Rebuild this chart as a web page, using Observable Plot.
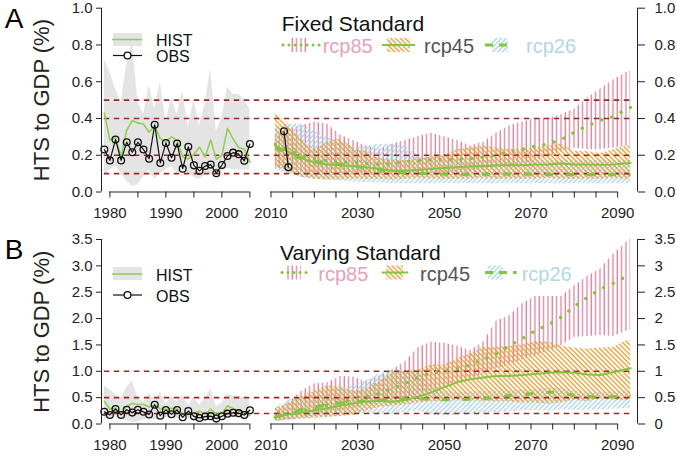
<!DOCTYPE html>
<html><head><meta charset="utf-8">
<script src="https://cdn.jsdelivr.net/npm/d3@7"></script>
<script src="https://cdn.jsdelivr.net/npm/@observablehq/plot@0.6"></script>
<style>
html,body{margin:0;padding:0;background:#fff}
#wrap{position:relative;width:677px;height:459px;overflow:hidden;font-family:Helvetica,Arial,"Liberation Sans",sans-serif}
#wrap>svg{position:absolute;left:0}
</style></head><body>
<div id="wrap"></div>
<script>
// ---------------- data ----------------
const histYears = [1979,1980,1981,1982,1983,1984,1985,1986,1987,1988,1989,1990,1991,1992,1993,1994,1995,1996,1997,1998,1999,2000,2001,2002,2003,2004,2005];
const obsVals   = [0.231,0.172,0.285,0.172,0.271,0.216,0.270,0.231,0.181,0.366,0.158,0.267,0.186,0.264,0.127,0.246,0.145,0.115,0.141,0.149,0.102,0.147,0.196,0.214,0.206,0.170,0.261];
const histMed   = [0.43,0.283,0.296,0.19,0.335,0.389,0.376,0.37,0.325,0.36,0.289,0.274,0.30,0.28,0.192,0.18,0.205,0.244,0.19,0.283,0.178,0.199,0.346,0.289,0.242,0.233,0.162];
const histHi    = [0.72,0.65,0.56,0.49,0.69,0.82,0.49,0.42,0.58,0.45,0.60,0.38,0.51,0.42,0.55,0.35,0.50,0.36,0.48,0.67,0.33,0.40,0.57,0.53,0.53,0.50,0.45];
const histLo    = [0.09,0.12,0.14,0.10,0.06,0.03,0.04,0.08,0.12,0.07,0.10,0.12,0.14,0.10,0.12,0.10,0.08,0.07,0.09,0.10,0.09,0.11,0.13,0.12,0.12,0.12,0.12];

const obsRecentYears = [2013, 2014];
const obsRecentVals  = [0.33, 0.135];

const projYears = [2011,2014,2017,2020,2023,2026,2029,2032,2035,2038,2041,2044,2047,2050,2053,2056,2059,2062,2065,2068,2071,2074,2077,2080,2083,2086,2089,2092,2093];

// Panel A: fixed standard
const a85hi  = [0.30,0.34,0.36,0.38,0.37,0.31,0.28,0.25,0.23,0.26,0.28,0.30,0.32,0.30,0.28,0.25,0.27,0.32,0.36,0.38,0.40,0.40,0.42,0.45,0.51,0.56,0.61,0.65,0.66];
const a85lo  = [0.13,0.12,0.11,0.10,0.10,0.10,0.10,0.10,0.10,0.10,0.10,0.10,0.10,0.10,0.10,0.11,0.12,0.13,0.14,0.15,0.17,0.19,0.22,0.24,0.23,0.23,0.24,0.25,0.25];
const a45hi  = [0.43,0.37,0.29,0.23,0.27,0.29,0.24,0.22,0.18,0.17,0.17,0.18,0.19,0.20,0.23,0.24,0.25,0.24,0.23,0.23,0.24,0.25,0.26,0.22,0.22,0.21,0.23,0.25,0.25];
const a45lo  = [0.14,0.11,0.08,0.07,0.065,0.065,0.07,0.07,0.07,0.065,0.07,0.075,0.07,0.07,0.07,0.07,0.075,0.07,0.07,0.07,0.07,0.075,0.07,0.07,0.07,0.07,0.075,0.07,0.07];
const a26hi  = [0.35,0.37,0.37,0.33,0.30,0.27,0.24,0.25,0.26,0.26,0.25,0.20,0.18,0.17,0.17,0.17,0.17,0.17,0.17,0.17,0.17,0.17,0.17,0.17,0.17,0.17,0.17,0.17,0.17];
const a26lo  = [0.12,0.10,0.08,0.07,0.065,0.06,0.055,0.05,0.05,0.045,0.045,0.045,0.045,0.045,0.045,0.045,0.045,0.045,0.045,0.045,0.045,0.045,0.045,0.045,0.045,0.045,0.045,0.045,0.045];
const a85med = [0.26,0.23,0.20,0.18,0.17,0.165,0.16,0.155,0.15,0.155,0.165,0.17,0.176,0.178,0.178,0.183,0.19,0.20,0.22,0.232,0.25,0.262,0.285,0.325,0.36,0.39,0.41,0.45,0.46];
const a45med = [0.25,0.22,0.185,0.16,0.15,0.145,0.14,0.135,0.125,0.115,0.115,0.12,0.125,0.13,0.135,0.14,0.14,0.145,0.145,0.145,0.15,0.15,0.155,0.15,0.15,0.148,0.15,0.157,0.158];
const a26med = [0.24,0.21,0.18,0.165,0.16,0.15,0.14,0.13,0.12,0.11,0.105,0.10,0.10,0.097,0.095,0.095,0.095,0.096,0.097,0.096,0.096,0.095,0.094,0.095,0.095,0.095,0.095,0.095,0.095];

// Panel B: varying standard
const b85hi  = [0.22,0.40,0.62,0.76,0.78,0.90,0.89,0.80,0.90,1.03,1.18,1.45,1.55,1.53,1.48,1.39,1.55,1.95,2.05,2.28,2.42,2.42,2.42,2.62,2.80,2.94,3.22,3.45,3.52];
const b85lo  = [0.05,0.08,0.12,0.15,0.20,0.25,0.30,0.35,0.40,0.45,0.50,0.55,0.62,0.70,0.78,0.85,0.95,1.05,1.12,1.22,1.30,1.38,1.48,1.64,1.66,1.68,1.66,1.76,1.78];
const b45hi  = [0.29,0.39,0.52,0.62,0.72,0.70,0.62,0.66,0.80,0.97,1.00,1.03,1.12,1.12,1.24,1.33,1.45,1.45,1.47,1.50,1.56,1.55,1.48,1.44,1.42,1.44,1.45,1.58,1.58];
const b45lo  = [0.05,0.08,0.10,0.12,0.13,0.14,0.16,0.25,0.32,0.34,0.36,0.40,0.42,0.43,0.44,0.44,0.43,0.42,0.42,0.40,0.40,0.38,0.40,0.45,0.42,0.48,0.45,0.44,0.45];
const b26hi  = [0.30,0.45,0.50,0.55,0.60,0.65,0.72,0.82,0.95,1.02,1.02,0.98,0.70,0.62,0.60,0.60,0.62,0.62,0.63,0.64,0.66,0.68,0.68,0.62,0.60,0.60,0.60,0.62,0.62];
const b26lo  = [0.04,0.06,0.08,0.10,0.12,0.15,0.18,0.20,0.20,0.20,0.22,0.25,0.17,0.15,0.17,0.20,0.20,0.22,0.23,0.25,0.25,0.25,0.27,0.26,0.26,0.27,0.28,0.30,0.30];
const b85med = [0.13,0.20,0.25,0.30,0.36,0.42,0.46,0.52,0.58,0.67,0.77,0.89,0.97,1.01,1.05,1.12,1.23,1.33,1.49,1.62,1.77,1.88,2.03,2.23,2.40,2.56,2.67,2.80,2.86];
const b45med = [0.13,0.18,0.22,0.26,0.30,0.35,0.39,0.42,0.44,0.42,0.45,0.52,0.60,0.70,0.79,0.85,0.88,0.91,0.91,0.93,0.95,0.97,0.98,0.97,0.94,0.93,0.98,1.04,1.06];
const b26med = [0.13,0.20,0.27,0.32,0.37,0.40,0.42,0.44,0.45,0.47,0.48,0.48,0.47,0.46,0.46,0.47,0.48,0.50,0.54,0.56,0.58,0.60,0.60,0.54,0.52,0.51,0.52,0.53,0.53];

const refA = [0.1, 0.2, 0.4, 0.5];
const refB = [0.2, 0.5, 1.0];
const refSpan = [1979, 2093];
const yTicksA = [0, 0.2, 0.4, 0.6, 0.8, 1.0];
const yTicksB = [0, 0.5, 1, 1.5, 2, 2.5, 3, 3.5];
const xTicksHist = [1980, 1985, 1990, 1995, 2000, 2005];
const xTicksProj = [2010,2015,2020,2025,2030,2035,2040,2045,2050,2055,2060,2065,2070,2075,2080,2085,2090];
const xLabels = [1980, 1990, 2000, 2010, 2030, 2050, 2070, 2090];
const yLabel = "HTS to GDP (%)";

// ---------------- tables ----------------
const hist = histYears.map((year, i) => ({year, obs: obsVals[i], med: histMed[i], lo: histLo[i], hi: histHi[i]}));
const obsRecent = obsRecentYears.map((year, i) => ({year, v: obsRecentVals[i]}));
const mkProj = (s) => projYears.map((year, i) => ({
  year, lo85: s.lo85[i], hi85: s.hi85[i], lo45: s.lo45[i], hi45: s.hi45[i], lo26: s.lo26[i], hi26: s.hi26[i],
  m85: s.m85[i], m45: s.m45[i], m26: s.m26[i]
}));
const projA = mkProj({lo85:a85lo,hi85:a85hi,lo45:a45lo,hi45:a45hi,lo26:a26lo,hi26:a26hi,m85:a85med,m45:a45med,m26:a26med});
const projB = mkProj({lo85:b85lo,hi85:b85hi,lo45:b45lo,hi45:b45hi,lo26:b26lo,hi26:b26hi,m85:b85med,m45:b45med,m26:b26med});

// ---------------- style ----------------
const GREEN = "#84c441", HISTGREEN = "#8fd056", GREY = "#e4e4e4", RED = "#9c2a22", INK = "#222";
const FONT = 'Helvetica, Arial, "Liberation Sans", sans-serif';
// broken x axis: historical years and projection years on different piecewise segments
const xDomain = [1978.5, 2007, 2008.5, 2094.58];
const xRange  = [101, 260.6, 264, 637];

function panel({yMax, yTicks, rightFmt, ref, proj, showRecentObs, letter, mTop, mBottom}) {
  const H = 231;
  const marks = [
    Plot.areaY(hist, {x: "year", y1: "lo", y2: "hi", fill: GREY}),
    Plot.areaY(proj, {x: "year", y1: "lo85", y2: "hi85", fill: "url(#h85)"}),
    Plot.areaY(proj, {x: "year", y1: "lo26", y2: "hi26", fill: "url(#h26)"}),
    Plot.areaY(proj, {x: "year", y1: "lo45", y2: "hi45", fill: "url(#h45)"}),
    Plot.ruleY(ref, {x1: refSpan[0], x2: refSpan[1], stroke: RED, strokeWidth: 1.6, strokeDasharray: "5.5,4.5"}),
    Plot.lineY(proj, {x: "year", y: "m26", stroke: GREEN, strokeWidth: 3, strokeDasharray: "8,13", strokeLinecap: "butt"}),
    Plot.lineY(proj, {x: "year", y: "m45", stroke: GREEN, strokeWidth: 2}),
    Plot.lineY(proj, {x: "year", y: "m85", stroke: GREEN, strokeWidth: 3.4, strokeDasharray: "0.01,10.5", strokeLinecap: "round"}),
    Plot.lineY(hist, {x: "year", y: "med", stroke: HISTGREEN, strokeWidth: 1.6}),
    Plot.lineY(hist, {x: "year", y: "obs", stroke: "#111", strokeWidth: 1.2}),
    Plot.dot(hist, {x: "year", y: "obs", r: 3.4, stroke: "#111", strokeWidth: 1.3, fill: "none"}),
    // axes
    Plot.ruleY([0], {x1: xTicksHist[0], x2: xTicksHist[xTicksHist.length - 1], stroke: INK}),
    Plot.ruleY([0], {x1: xTicksProj[0], x2: xTicksProj[xTicksProj.length - 1], stroke: INK}),
    Plot.ruleX([xDomain[0]], {y1: 0, y2: yMax, stroke: INK}),
    Plot.ruleX([xDomain[3]], {y1: 0, y2: yMax, stroke: INK}),
    Plot.axisX({ticks: xTicksHist.concat(xTicksProj), anchor: "bottom", tickSize: 6, tickPadding: 9,
      tickFormat: d => xLabels.includes(d) ? String(d) : "", fontSize: 15, label: null}),
    Plot.axisY({ticks: yTicks, anchor: "left", tickSize: 5, tickPadding: 4, tickFormat: d3.format(".1f"), fontSize: 15, label: null}),
    Plot.axisY({ticks: yTicks, anchor: "right", tickSize: 7, tickPadding: 10, tickFormat: rightFmt, fontSize: 15, label: null}),
    Plot.text([yLabel], {frameAnchor: "left", textAnchor: "middle", lineAnchor: "middle", rotate: -90, dx: -60, fontSize: 22, fill: INK}),
    Plot.text([letter], {frameAnchor: "top-left", textAnchor: "middle", lineAnchor: "middle", dx: -87.5, dy: 10.5, fontSize: 28, fill: "#000"})
  ];
  if (showRecentObs) {
    marks.push(Plot.lineY(obsRecent, {x: "year", y: "v", stroke: "#111", strokeWidth: 1.2}));
    marks.push(Plot.dot(obsRecent, {x: "year", y: "v", r: 3.4, stroke: "#111", strokeWidth: 1.3, fill: "none"}));
  }
  return Plot.plot({
    width: 677, height: H,
    marginLeft: 101, marginRight: 40, marginTop: mTop, marginBottom: mBottom,
    x: {type: "linear", domain: xDomain, range: xRange, axis: null},
    y: {domain: [0, yMax], range: [H - mBottom, mTop], axis: null},
    style: {fontFamily: FONT, color: INK, background: "transparent", overflow: "visible"},
    marks
  });
}

const wrap = document.getElementById("wrap");
const svgA = panel({yMax: 1, yTicks: yTicksA, rightFmt: d3.format(".1f"), ref: refA, proj: projA, showRecentObs: true, letter: "A", mTop: 7.7, mBottom: 39.5});
const svgB = panel({yMax: 3.5, yTicks: yTicksB, rightFmt: d => String(d), ref: refB, proj: projB, showRecentObs: false, letter: "B", mTop: 8, mBottom: 38.5});
svgA.style.top = "0px";
svgB.style.top = "231px";
wrap.appendChild(svgA);
wrap.appendChild(svgB);

// ---------------- overlay: patterns, titles and legends ----------------
const ov = d3.create("svg").attr("width", 677).attr("height", 459).style("top", "0px")
  .style("pointer-events", "none").style("font-family", FONT);
const defs = ov.append("defs");
defs.append("pattern").attr("id", "h85").attr("patternUnits", "userSpaceOnUse").attr("width", 4.333).attr("height", 8)
  .append("line").attr("x1", 2).attr("x2", 2).attr("y1", 0).attr("y2", 8).attr("stroke", "#d9869f").attr("stroke-width", 1.35);
defs.append("pattern").attr("id", "h45").attr("patternUnits", "userSpaceOnUse").attr("width", 3.4).attr("height", 6)
  .attr("patternTransform", "rotate(-45)")
  .append("line").attr("x1", 1).attr("x2", 1).attr("y1", 0).attr("y2", 6).attr("stroke", "#e89f33").attr("stroke-width", 1.35);
defs.append("pattern").attr("id", "h26").attr("patternUnits", "userSpaceOnUse").attr("width", 3.4).attr("height", 6)
  .attr("patternTransform", "rotate(45)")
  .append("line").attr("x1", 1).attr("x2", 1).attr("y1", 0).attr("y2", 6).attr("stroke", "#a6d1e6").attr("stroke-width", 1.25);

function histLegend(g, boxTop, lineY1, base1, lineY2, base2) {
  g.append("rect").attr("x", 113).attr("y", boxTop).attr("width", 29).attr("height", 13).attr("fill", GREY);
  g.append("line").attr("x1", 112).attr("x2", 142).attr("y1", lineY1).attr("y2", lineY1).attr("stroke", HISTGREEN).attr("stroke-width", 1.6);
  g.append("text").attr("x", 156).attr("y", base1).attr("font-size", 16).attr("fill", "#111").text("HIST");
  g.append("line").attr("x1", 113).attr("x2", 142).attr("y1", lineY2).attr("y2", lineY2).attr("stroke", "#111").attr("stroke-width", 1.2);
  g.append("circle").attr("cx", 127.5).attr("cy", lineY2).attr("r", 3.4).attr("fill", "#fff").attr("stroke", "#111").attr("stroke-width", 1.3);
  g.append("text").attr("x", 156).attr("y", base2).attr("font-size", 16).attr("fill", "#111").text("OBS");
}
function rcpLegend(g, title, titleX, titleBase, symY, textBase, pos) {
  g.append("text").attr("x", titleX).attr("y", titleBase).attr("font-size", 21).attr("fill", "#111").text(title);
  const items = [
    {name: "rcp85", pat: "url(#h85)", dash: "0.01,6", cap: "round", w: 3, color: "#e6a2b9"},
    {name: "rcp45", pat: "url(#h45)", dash: null, cap: "butt", w: 2, color: "#555"},
    {name: "rcp26", pat: "url(#h26)", dash: "8,6", cap: "butt", w: 3, color: "#b3d7e8"}
  ];
  items.forEach((it, i) => {
    const p = pos[i];
    g.append("rect").attr("x", p.bx).attr("y", symY - 7).attr("width", p.bw).attr("height", 14).attr("fill", it.pat);
    const ln = g.append("line").attr("x1", p.lx1).attr("x2", p.lx2).attr("y1", symY).attr("y2", symY)
      .attr("stroke", GREEN).attr("stroke-width", it.w).attr("stroke-linecap", it.cap);
    if (it.dash) ln.attr("stroke-dasharray", it.dash);
    g.append("text").attr("x", p.tx).attr("y", textBase).attr("font-size", 20).attr("fill", it.color).text(it.name);
  });
}
histLegend(ov.append("g"), 33, 39.5, 45.5, 55.5, 61.5);
histLegend(ov.append("g"), 267, 274, 281, 295, 301.5);
rcpLegend(ov.append("g"), "Fixed Standard", 281.7, 31, 45, 53.3, [
  {bx: 290, bw: 17, lx1: 283, lx2: 320, tx: 322.7},
  {bx: 387, bw: 23, lx1: 382, lx2: 415, tx: 424},
  {bx: 492, bw: 16, lx1: 485, lx2: 513, tx: 526}
]);
rcpLegend(ov.append("g"), "Varying Standard", 280, 260, 272.5, 280.5, [
  {bx: 287, bw: 14, lx1: 282, lx2: 307, tx: 318.3},
  {bx: 386, bw: 17, lx1: 381.7, lx2: 408.3, tx: 420},
  {bx: 488, bw: 15, lx1: 485, lx2: 516.7, tx: 521.7}
]);
wrap.appendChild(ov.node());
</script>
</body></html>
